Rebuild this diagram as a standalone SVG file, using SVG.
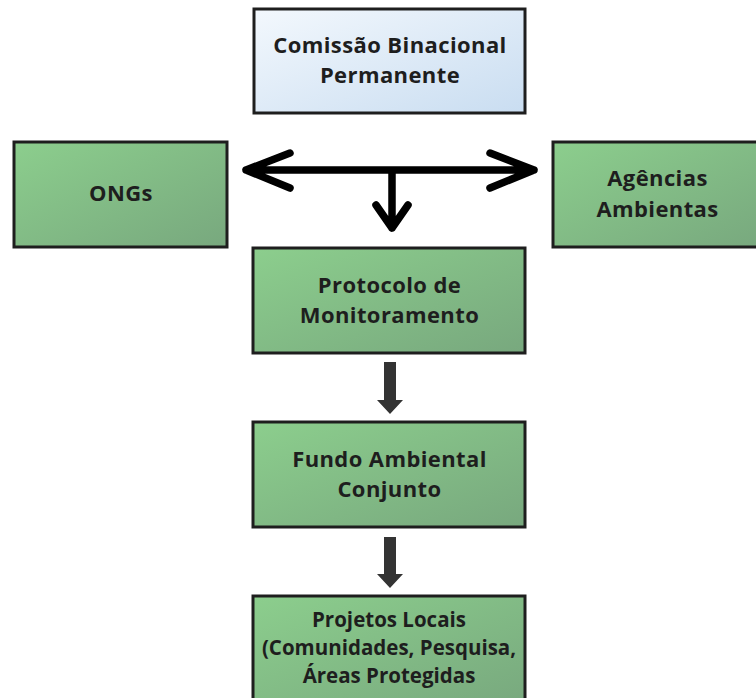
<svg xmlns="http://www.w3.org/2000/svg" width="756" height="698" viewBox="0 0 756 698">
<defs>
<linearGradient id="gGreen" x1="0" y1="0" x2="1" y2="1">
<stop offset="0" stop-color="#8cce8d"/>
<stop offset="1" stop-color="#78a87e"/>
</linearGradient>
<linearGradient id="gBlue" x1="0" y1="0" x2="1" y2="1">
<stop offset="0" stop-color="#f3f8fd"/>
<stop offset="1" stop-color="#c9ddf1"/>
</linearGradient>
<style>
.box{stroke:#1e1e1e;stroke-width:3}
.green{fill:url(#gGreen)}
.blue{fill:url(#gBlue)}
text{font-family:"Open Sans","Noto Sans","DejaVu Sans",sans-serif;font-weight:bold;font-size:22px;letter-spacing:0.4px;fill:#1e1e1e;text-anchor:middle}
.small{font-size:20.5px;letter-spacing:0}
.line{fill:none;stroke:#000;stroke-width:7.5;stroke-linecap:round;stroke-linejoin:round}
.thick{fill:#333}
</style>
</defs>
<rect width="756" height="698" fill="#ffffff"/>
<g id="connectors">
<path class="line" d="M246 170 H534 M290 153 L246 170 L290 188 M490 153 L534 170 L490 188 M392 170 V228 M376 205 L392 228 L408 205"/>
<path class="thick" d="M384 362 H396 V400 H403 L390 414 L377 400 H384 Z"/>
<path class="thick" d="M384 537 H396 V574 H403 L390 588 L377 574 H384 Z"/>
</g>
<g id="comissao">
<rect class="box blue" x="254" y="9" width="271" height="104"/>
<text x="390" y="53">Comissão Binacional</text>
<text x="390" y="83">Permanente</text>
</g>
<g id="ongs">
<rect class="box green" x="14" y="142" width="213" height="105"/>
<text x="121" y="201">ONGs</text>
</g>
<g id="agencias">
<rect class="box green" x="553" y="142" width="210" height="105"/>
<text x="657.5" y="186">Agências</text>
<text x="657.5" y="217">Ambientas</text>
</g>
<g id="protocolo">
<rect class="box green" x="253" y="248" width="272" height="105"/>
<text x="389.5" y="293">Protocolo de</text>
<text x="389.5" y="323">Monitoramento</text>
</g>
<g id="fundo">
<rect class="box green" x="253" y="422" width="272" height="105"/>
<text x="389.5" y="467">Fundo Ambiental</text>
<text x="389.5" y="497">Conjunto</text>
</g>
<g id="projetos">
<rect class="box green" x="253" y="596" width="272" height="112"/>
<text class="small" x="389" y="627">Projetos Locais</text>
<text class="small" x="389" y="655">(Comunidades, Pesquisa,</text>
<text class="small" x="389" y="683">Áreas Protegidas</text>
</g>
</svg>
